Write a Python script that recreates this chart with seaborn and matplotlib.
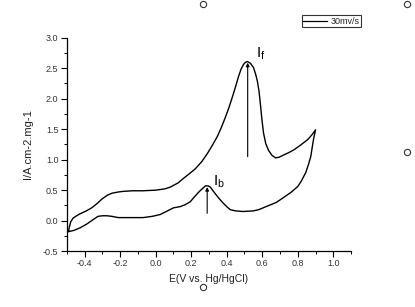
import matplotlib
matplotlib.use("Agg")
import matplotlib.pyplot as plt
from matplotlib.lines import Line2D
import numpy as np
import pandas as pd
import seaborn as sns

# Forward (anodic) scan
fwd_E = [-0.49, -0.487, -0.478, -0.465, -0.445, -0.427, -0.39, -0.36, -0.33, -0.30, -0.27, -0.246,
         -0.21, -0.184, -0.13, -0.071, 0.0, 0.05, 0.082, 0.127, 0.155, 0.19, 0.223, 0.26, 0.291,
         0.32, 0.347, 0.37, 0.393, 0.412, 0.432, 0.45, 0.466, 0.48, 0.494, 0.506, 0.517, 0.534,
         0.551, 0.565, 0.573, 0.582, 0.59, 0.598, 0.607, 0.62, 0.636, 0.655, 0.675, 0.695, 0.715,
         0.745, 0.777, 0.816, 0.856, 0.88, 0.90]
fwd_I = [-0.18, -0.12, -0.02, 0.04, 0.08, 0.11, 0.16, 0.21, 0.28, 0.36, 0.42, 0.45,
         0.47, 0.48, 0.49, 0.49, 0.50, 0.52, 0.55, 0.62, 0.69, 0.77, 0.85, 0.97, 1.10,
         1.24, 1.38, 1.53, 1.70, 1.85, 2.03, 2.20, 2.36, 2.48, 2.56, 2.60, 2.61, 2.58,
         2.51, 2.38, 2.28, 2.12, 1.90, 1.66, 1.44, 1.26, 1.15, 1.07, 1.03, 1.04, 1.07,
         1.11, 1.16, 1.24, 1.33, 1.41, 1.49]
# Reverse (cathodic) scan
rev_E = [0.90, 0.895, 0.89, 0.88, 0.873, 0.86, 0.845, 0.82, 0.80, 0.76, 0.72, 0.68, 0.63,
         0.58, 0.55, 0.49, 0.45, 0.42, 0.40, 0.376, 0.355, 0.336, 0.32, 0.308, 0.295, 0.28,
         0.265, 0.25, 0.24, 0.215, 0.195, 0.165, 0.138, 0.10, 0.06, 0.025, -0.02, -0.071,
         -0.14, -0.21, -0.246, -0.274, -0.30, -0.325, -0.36, -0.39, -0.427, -0.46, -0.49]
rev_I = [1.49, 1.42, 1.36, 1.18, 1.05, 0.92, 0.79, 0.65, 0.56, 0.46, 0.38, 0.30, 0.24,
         0.18, 0.16, 0.15, 0.16, 0.18, 0.23, 0.30, 0.37, 0.44, 0.50, 0.55, 0.57, 0.57,
         0.53, 0.49, 0.46, 0.38, 0.31, 0.26, 0.23, 0.21, 0.15, 0.10, 0.07, 0.05,
         0.05, 0.05, 0.07, 0.08, 0.08, 0.07, 0.00, -0.06, -0.12, -0.16, -0.18]

legend_label = "30mv/s"
x_label = "E(V vs. Hg/HgCl)"
y_label = "I/A.cm-2.mg-1"
x_ticks = [-0.4, -0.2, 0.0, 0.2, 0.4, 0.6, 0.8, 1.0]
y_ticks = [-0.5, 0.0, 0.5, 1.0, 1.5, 2.0, 2.5, 3.0]

df = pd.DataFrame({"E": fwd_E + rev_E, "I": fwd_I + rev_I})

sns.set_theme(style="ticks")
plt.rcParams['font.family'] = ['Liberation Sans', 'DejaVu Sans']
plt.rcParams['mathtext.fontset'] = 'custom'
plt.rcParams['mathtext.rm'] = 'Liberation Sans'
plt.rcParams['mathtext.it'] = 'Liberation Sans'

fig = plt.figure(figsize=(4.15, 3.07), dpi=100)
ax = fig.add_axes([0.161, 0.182, 0.685, 0.695])

sns.lineplot(data=df, x="E", y="I", sort=False, estimator=None, color="black",
             linewidth=1.0, ax=ax, legend=False)

ax.set_xlim(-0.5, 1.1)
ax.set_ylim(-0.5, 3.0)
ax.set_xticks(x_ticks)
ax.set_yticks(y_ticks)
ax.set_xticklabels([f"{v:.1f}" for v in x_ticks])
ax.set_yticklabels([f"{v:.1f}" for v in y_ticks])
ax.set_xticks(np.arange(-0.5, 1.101, 0.1), minor=True)
ax.set_yticks(np.arange(-0.5, 3.01, 0.25), minor=True)
ax.tick_params(which="major", direction="out", length=4, width=0.8, labelsize=6.5,
               colors="black", labelcolor="#333333", pad=2)
ax.tick_params(which="minor", direction="out", length=2, width=0.7, colors="black")
for s in ["top", "right"]:
    ax.spines[s].set_visible(False)
for s in ["left", "bottom"]:
    ax.spines[s].set_linewidth(0.9)
    ax.spines[s].set_color("black")

ax.set_xlabel(x_label, fontsize=7.5, color="#222222", labelpad=4)
ax.set_ylabel(y_label, fontsize=8, color="#222222", labelpad=7)

# Peak arrows and labels
ax.annotate("", xy=(0.518, 2.59), xytext=(0.518, 1.05),
            arrowprops=dict(arrowstyle="-|>", color="black", lw=0.8,
                            mutation_scale=5, shrinkA=0, shrinkB=0))
ax.annotate("", xy=(0.29, 0.55), xytext=(0.29, 0.12),
            arrowprops=dict(arrowstyle="-|>", color="black", lw=0.8,
                            mutation_scale=5, shrinkA=0, shrinkB=0))
ax.text(0.565, 2.68, r"$\mathrm{I_f}$", fontsize=11, color="black")
ax.text(0.325, 0.58, r"$\mathrm{I_b}$", fontsize=11, color="black")

# Legend box above the plot
handles = [Line2D([0], [0], color="black", lw=0.9)]
leg = fig.legend(handles, [legend_label], loc="upper left",
                 bbox_to_anchor=(302 / 415, 1 - 15.5 / 307), fontsize=6.5,
                 frameon=True, fancybox=False, shadow=False, handlelength=2.6,
                 handletextpad=0.4, borderpad=0.15, borderaxespad=0)
leg.get_frame().set_edgecolor("black")
leg.get_frame().set_linewidth(0.8)

# Origin-style selection handles
for px, py in [(203, 4), (407, 4), (407, 152), (203, 287)]:
    fig.add_artist(Line2D([px / 415], [1 - py / 307], marker="o", markersize=4.5,
                          markerfacecolor="white", markeredgecolor="#333333",
                          markeredgewidth=0.8, transform=fig.transFigure))

fig.savefig("out.png", dpi=100)
